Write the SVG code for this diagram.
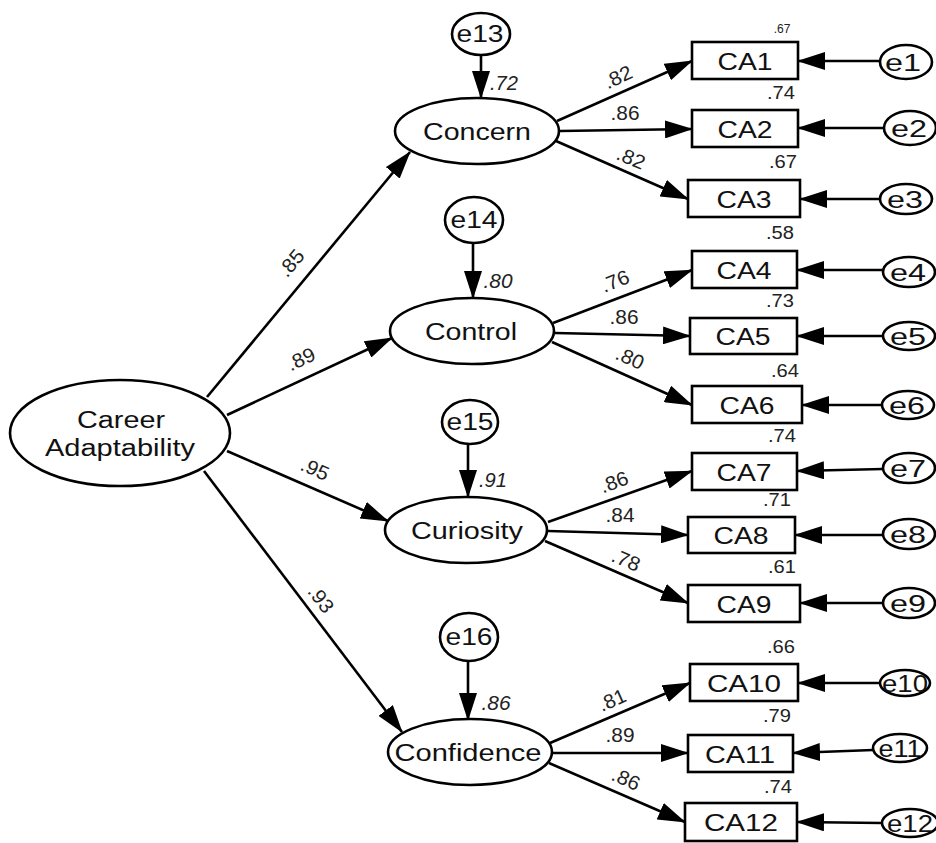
<svg xmlns="http://www.w3.org/2000/svg" width="936" height="843" viewBox="0 0 936 843">
<defs>
<marker id="ah" markerUnits="userSpaceOnUse" viewBox="0 0 28 18" markerWidth="28" markerHeight="18" refX="27" refY="9" orient="auto">
<path d="M0,0 L28,9 L0,18 z" fill="#000"/>
</marker>
<style>
.node{fill:#fff;stroke:#000;stroke-width:2.6}
.lbl{font-family:"Liberation Sans",Arial,sans-serif;font-size:23px;fill:#111;text-anchor:middle}
.ca{font-family:"Liberation Sans",Arial,sans-serif;font-size:24px;fill:#111;text-anchor:middle}
.num{font-family:"Liberation Sans",Arial,sans-serif;font-size:20px;fill:#222;text-anchor:middle}
.it{font-style:italic}
.r2{font-family:"Liberation Sans",Arial,sans-serif;font-size:18px;fill:#222;text-anchor:middle}
.con line{stroke:#000;stroke-width:2.6;marker-end:url(#ah)}
</style>
</defs>
<rect width="936" height="843" fill="#fff"/>

<g class="con" id="connectors">
<line x1="207" y1="397" x2="410" y2="152"/>
<line x1="227" y1="415" x2="392" y2="338"/>
<line x1="227" y1="451" x2="388" y2="521"/>
<line x1="204" y1="471" x2="402" y2="732"/>
<line x1="481" y1="55" x2="481" y2="98"/>
<line x1="473" y1="243" x2="473" y2="298"/>
<line x1="468" y1="445" x2="468" y2="497"/>
<line x1="468" y1="661" x2="468" y2="720"/>
<line x1="557" y1="121" x2="692" y2="61"/>
<line x1="560" y1="131" x2="692" y2="129"/>
<line x1="556" y1="141" x2="688" y2="199"/>
<line x1="553" y1="323" x2="692" y2="270"/>
<line x1="555" y1="333" x2="690" y2="336"/>
<line x1="552" y1="342" x2="692" y2="405"/>
<line x1="548" y1="522" x2="692" y2="471"/>
<line x1="548" y1="531" x2="688" y2="535"/>
<line x1="545" y1="541" x2="688" y2="603"/>
<line x1="550" y1="743" x2="690" y2="683"/>
<line x1="552" y1="753" x2="688" y2="753"/>
<line x1="549" y1="763" x2="685" y2="822"/>
<line x1="880" y1="61" x2="798" y2="61"/>
<line x1="884" y1="128" x2="798" y2="128"/>
<line x1="880" y1="199" x2="800" y2="199"/>
<line x1="882" y1="270" x2="797" y2="270"/>
<line x1="882" y1="336" x2="797" y2="336"/>
<line x1="882" y1="405" x2="802" y2="405"/>
<line x1="883" y1="469" x2="797" y2="471"/>
<line x1="883" y1="535" x2="795" y2="535"/>
<line x1="883" y1="603" x2="800" y2="603"/>
<line x1="880" y1="683" x2="798" y2="683"/>
<line x1="873" y1="750" x2="793" y2="753"/>
<line x1="882" y1="823" x2="797" y2="822"/>
</g>

<g id="labels">
<text class="num" transform="translate(291,263) rotate(-50)" dy="0.35em" textLength="29" lengthAdjust="spacingAndGlyphs">.85</text>
<text class="num" transform="translate(301,359) rotate(-25)" dy="0.35em" textLength="29" lengthAdjust="spacingAndGlyphs">.89</text>
<text class="num" transform="translate(315,469) rotate(24)" dy="0.35em" textLength="29" lengthAdjust="spacingAndGlyphs">.95</text>
<text class="num" transform="translate(321,599) rotate(53)" dy="0.35em" textLength="29" lengthAdjust="spacingAndGlyphs">.93</text>
<text class="num it" x="504" y="90" textLength="28" lengthAdjust="spacingAndGlyphs">.72</text>
<text class="num it" x="498" y="288" textLength="29" lengthAdjust="spacingAndGlyphs">.80</text>
<text class="num it" x="493" y="487" textLength="28" lengthAdjust="spacingAndGlyphs">.91</text>
<text class="num it" x="496" y="710" textLength="29" lengthAdjust="spacingAndGlyphs">.86</text>
<text class="num" transform="translate(618,77) rotate(-25)" dy="0.35em" textLength="29" lengthAdjust="spacingAndGlyphs">.82</text>
<text class="num" transform="translate(625,113)" dy="0.35em" textLength="29" lengthAdjust="spacingAndGlyphs">.86</text>
<text class="num" transform="translate(631,158) rotate(23)" dy="0.35em" textLength="29" lengthAdjust="spacingAndGlyphs">.82</text>
<text class="num" transform="translate(615,281) rotate(-22)" dy="0.35em" textLength="29" lengthAdjust="spacingAndGlyphs">.76</text>
<text class="num" transform="translate(624,317)" dy="0.35em" textLength="29" lengthAdjust="spacingAndGlyphs">.86</text>
<text class="num" transform="translate(630,358) rotate(24)" dy="0.35em" textLength="29" lengthAdjust="spacingAndGlyphs">.80</text>
<text class="num" transform="translate(614,482) rotate(-20)" dy="0.35em" textLength="29" lengthAdjust="spacingAndGlyphs">.86</text>
<text class="num" transform="translate(620,515)" dy="0.35em" textLength="29" lengthAdjust="spacingAndGlyphs">.84</text>
<text class="num" transform="translate(626,560) rotate(23)" dy="0.35em" textLength="29" lengthAdjust="spacingAndGlyphs">.78</text>
<text class="num" transform="translate(612,700) rotate(-24)" dy="0.35em" textLength="28" lengthAdjust="spacingAndGlyphs">.81</text>
<text class="num" transform="translate(620,735)" dy="0.35em" textLength="29" lengthAdjust="spacingAndGlyphs">.89</text>
<text class="num" transform="translate(626,779) rotate(24)" dy="0.35em" textLength="29" lengthAdjust="spacingAndGlyphs">.86</text>
<text class="r2" x="782" y="33" style="font-size:12px">.67</text>
<text class="r2" x="781" y="99" textLength="28" lengthAdjust="spacingAndGlyphs">.74</text>
<text class="r2" x="783" y="168" textLength="28" lengthAdjust="spacingAndGlyphs">.67</text>
<text class="r2" x="780" y="239" textLength="28" lengthAdjust="spacingAndGlyphs">.58</text>
<text class="r2" x="780" y="307" textLength="28" lengthAdjust="spacingAndGlyphs">.73</text>
<text class="r2" x="785" y="377" textLength="28" lengthAdjust="spacingAndGlyphs">.64</text>
<text class="r2" x="782" y="442" textLength="28" lengthAdjust="spacingAndGlyphs">.74</text>
<text class="r2" x="777" y="506" textLength="28" lengthAdjust="spacingAndGlyphs">.71</text>
<text class="r2" x="782" y="573" textLength="28" lengthAdjust="spacingAndGlyphs">.61</text>
<text class="r2" x="781" y="653" textLength="28" lengthAdjust="spacingAndGlyphs">.66</text>
<text class="r2" x="777" y="722" textLength="28" lengthAdjust="spacingAndGlyphs">.79</text>
<text class="r2" x="778" y="793" textLength="28" lengthAdjust="spacingAndGlyphs">.74</text>
</g>

<g id="career"><ellipse class="node" cx="120" cy="433" rx="110" ry="53"/>
<text class="lbl" x="121" y="428" textLength="88" lengthAdjust="spacingAndGlyphs">Career</text>
<text class="lbl" x="120" y="456" textLength="150" lengthAdjust="spacingAndGlyphs">Adaptability</text></g>

<g id="concern"><ellipse class="node" cx="477" cy="131" rx="82" ry="33"/>
<text class="lbl" x="477" y="140" textLength="108" lengthAdjust="spacingAndGlyphs">Concern</text></g>
<g id="control"><ellipse class="node" cx="472" cy="331" rx="82" ry="33"/>
<text class="lbl" x="471" y="340" textLength="92" lengthAdjust="spacingAndGlyphs">Control</text></g>
<g id="curiosity"><ellipse class="node" cx="466" cy="530" rx="81" ry="33"/>
<text class="lbl" x="467" y="539" textLength="112" lengthAdjust="spacingAndGlyphs">Curiosity</text></g>
<g id="confidence"><ellipse class="node" cx="470" cy="752" rx="82" ry="33"/>
<text class="lbl" x="468" y="761" textLength="147" lengthAdjust="spacingAndGlyphs">Confidence</text></g>

<g id="e13"><ellipse class="node" cx="481" cy="34" rx="29" ry="21"/><text class="lbl" x="480" y="42" textLength="47" lengthAdjust="spacingAndGlyphs">e13</text></g>
<g id="e14"><ellipse class="node" cx="474" cy="220" rx="29" ry="23"/><text class="lbl" x="474" y="228" textLength="47" lengthAdjust="spacingAndGlyphs">e14</text></g>
<g id="e15"><ellipse class="node" cx="470" cy="422" rx="28" ry="22"/><text class="lbl" x="470" y="430" textLength="47" lengthAdjust="spacingAndGlyphs">e15</text></g>
<g id="e16"><ellipse class="node" cx="469" cy="637" rx="29" ry="24"/><text class="lbl" x="469" y="645" textLength="47" lengthAdjust="spacingAndGlyphs">e16</text></g>

<g id="CA1"><rect class="node" x="692" y="42" width="106" height="37"/><text class="ca" x="745" y="70" textLength="55" lengthAdjust="spacingAndGlyphs">CA1</text></g>
<g id="CA2"><rect class="node" x="692" y="110" width="106" height="37"/><text class="ca" x="745" y="138" textLength="55" lengthAdjust="spacingAndGlyphs">CA2</text></g>
<g id="CA3"><rect class="node" x="688" y="180" width="112" height="37"/><text class="ca" x="744" y="208" textLength="55" lengthAdjust="spacingAndGlyphs">CA3</text></g>
<g id="CA4"><rect class="node" x="692" y="251" width="105" height="37"/><text class="ca" x="744" y="279" textLength="55" lengthAdjust="spacingAndGlyphs">CA4</text></g>
<g id="CA5"><rect class="node" x="690" y="318" width="107" height="36"/><text class="ca" x="743" y="345" textLength="55" lengthAdjust="spacingAndGlyphs">CA5</text></g>
<g id="CA6"><rect class="node" x="692" y="386" width="110" height="37"/><text class="ca" x="747" y="414" textLength="55" lengthAdjust="spacingAndGlyphs">CA6</text></g>
<g id="CA7"><rect class="node" x="692" y="453" width="105" height="37"/><text class="ca" x="744" y="481" textLength="55" lengthAdjust="spacingAndGlyphs">CA7</text></g>
<g id="CA8"><rect class="node" x="688" y="517" width="107" height="36"/><text class="ca" x="741" y="544" textLength="55" lengthAdjust="spacingAndGlyphs">CA8</text></g>
<g id="CA9"><rect class="node" x="688" y="585" width="112" height="37"/><text class="ca" x="744" y="613" textLength="55" lengthAdjust="spacingAndGlyphs">CA9</text></g>
<g id="CA10"><rect class="node" x="690" y="664" width="108" height="37"/><text class="ca" x="744" y="692" textLength="74" lengthAdjust="spacingAndGlyphs">CA10</text></g>
<g id="CA11"><rect class="node" x="688" y="735" width="105" height="37"/><text class="ca" x="740" y="763" textLength="70" lengthAdjust="spacingAndGlyphs">CA11</text></g>
<g id="CA12"><rect class="node" x="685" y="803" width="112" height="38"/><text class="ca" x="741" y="831" textLength="74" lengthAdjust="spacingAndGlyphs">CA12</text></g>

<g id="e1"><ellipse class="node" cx="906" cy="62" rx="26" ry="17"/><text class="lbl" x="903" y="71" textLength="36" lengthAdjust="spacingAndGlyphs">e1</text></g>
<g id="e2"><ellipse class="node" cx="910" cy="128" rx="26" ry="17"/><text class="lbl" x="909" y="137" textLength="36" lengthAdjust="spacingAndGlyphs">e2</text></g>
<g id="e3"><ellipse class="node" cx="906" cy="199" rx="26" ry="15"/><text class="lbl" x="905" y="208" textLength="36" lengthAdjust="spacingAndGlyphs">e3</text></g>
<g id="e4"><ellipse class="node" cx="909" cy="272" rx="26" ry="15"/><text class="lbl" x="908" y="281" textLength="36" lengthAdjust="spacingAndGlyphs">e4</text></g>
<g id="e5"><ellipse class="node" cx="909" cy="336" rx="26" ry="14"/><text class="lbl" x="908" y="345" textLength="36" lengthAdjust="spacingAndGlyphs">e5</text></g>
<g id="e6"><ellipse class="node" cx="908" cy="405" rx="26" ry="14"/><text class="lbl" x="907" y="414" textLength="36" lengthAdjust="spacingAndGlyphs">e6</text></g>
<g id="e7"><ellipse class="node" cx="909" cy="468" rx="26" ry="15"/><text class="lbl" x="908" y="477" textLength="36" lengthAdjust="spacingAndGlyphs">e7</text></g>
<g id="e8"><ellipse class="node" cx="909" cy="534" rx="26" ry="15"/><text class="lbl" x="908" y="543" textLength="36" lengthAdjust="spacingAndGlyphs">e8</text></g>
<g id="e9"><ellipse class="node" cx="909" cy="603" rx="26" ry="15"/><text class="lbl" x="908" y="612" textLength="36" lengthAdjust="spacingAndGlyphs">e9</text></g>
<g id="e10"><ellipse class="node" cx="905" cy="683" rx="25" ry="13"/><text class="lbl" x="905" y="692" textLength="46" lengthAdjust="spacingAndGlyphs">e10</text></g>
<g id="e11"><ellipse class="node" cx="900" cy="748" rx="27" ry="14"/><text class="lbl" x="900" y="757" textLength="43" lengthAdjust="spacingAndGlyphs">e11</text></g>
<g id="e12"><ellipse class="node" cx="910" cy="823" rx="28" ry="14"/><text class="lbl" x="910" y="832" textLength="46" lengthAdjust="spacingAndGlyphs">e12</text></g>
</svg>
